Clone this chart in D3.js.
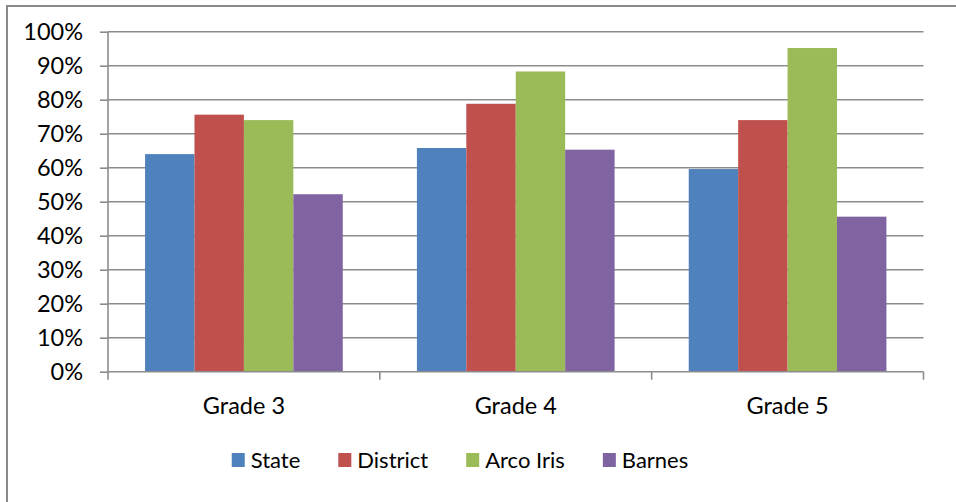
<!DOCTYPE html>
<html>
<head>
<meta charset="utf-8">
<script src="https://cdn.jsdelivr.net/npm/d3@7"></script>
<style>
  body { margin: 0; background: #fff; }
  svg { display: block; }
  text { font-family: Lato, "Open Sans", sans-serif; fill: #000; }
</style>
</head>
<body>
<div id="chart"></div>
<script>
// data
var grades = ["Grade 3", "Grade 4", "Grade 5"];
var series = ["State", "District", "Arco Iris", "Barnes"];
var stateVals = [0.640, 0.658, 0.596];
var districtVals = [0.756, 0.788, 0.740];
var arcoVals = [0.740, 0.883, 0.952];
var barnesVals = [0.522, 0.653, 0.456];
var yTicks = [0, 0.1, 0.2, 0.3, 0.4, 0.5, 0.6, 0.7, 0.8, 0.9, 1.0];
var colors = ["#4F81BD", "#C0504D", "#9BBB59", "#8064A2"];

var allVals = [stateVals, districtVals, arcoVals, barnesVals];

var W = 956, H = 502;
var plot = {left: 108, right: 923.5, top: 31.7, bottom: 371.7};
var fontSize = "23.5px";

var svg = d3.select("#chart")
  .append("svg")
    .attr("width", W)
    .attr("height", H);

// outer frame (only top and left edges show in the crop)
svg.append("rect")
  .attr("x", 7).attr("y", 6)
  .attr("width", W + 20).attr("height", H + 20)
  .attr("fill", "#fff")
  .attr("stroke", "#8a8a8a")
  .attr("stroke-width", 2);

var y = d3.scaleLinear()
  .domain([0, 1])
  .range([plot.bottom, plot.top]);

var x0 = d3.scaleBand()
  .domain(grades)
  .range([plot.left, plot.right])
  .padding(0);

var x1 = d3.scaleBand()
  .domain(series)
  .range([0, x0.bandwidth()])
  .paddingInner(0)
  .paddingOuter(0.75);

// gridlines
svg.append("g")
  .selectAll("line")
  .data(yTicks.filter(d => d > 0))
  .enter().append("line")
    .attr("x1", plot.left).attr("x2", plot.right)
    .attr("y1", d => y(d)).attr("y2", d => y(d))
    .attr("stroke", "#8c8c8c")
    .attr("stroke-width", 1.6);

// bars
var groups = svg.append("g")
  .selectAll("g")
  .data(series)
  .enter().append("g")
    .attr("fill", (d, i) => colors[i]);

groups.selectAll("rect")
  .data((s, i) => grades.map((g, j) => ({grade: g, s: s, v: allVals[i][j]})))
  .enter().append("rect")
    .attr("x", d => x0(d.grade) + x1(d.s))
    .attr("width", x1.bandwidth())
    .attr("y", d => y(d.v))
    .attr("height", d => y(0) - y(d.v));

// y axis
var yAxis = svg.append("g")
  .attr("transform", "translate(" + plot.left + ",0)")
  .call(d3.axisLeft(y).tickValues(yTicks).tickSize(8).tickPadding(17)
    .tickFormat(d3.format(".0%")));
yAxis.select(".domain").remove();
yAxis.selectAll("line").attr("stroke", "#8c8c8c").attr("stroke-width", 1.6);
yAxis.selectAll("text")
  .style("font-family", "Lato, sans-serif")
  .style("font-size", fontSize);
svg.append("line")
  .attr("x1", plot.left).attr("x2", plot.left)
  .attr("y1", plot.top).attr("y2", plot.bottom + 8)
  .attr("stroke", "#8c8c8c").attr("stroke-width", 1.6);

// x axis line and category ticks
svg.append("line")
  .attr("x1", plot.left).attr("x2", plot.right)
  .attr("y1", plot.bottom).attr("y2", plot.bottom)
  .attr("stroke", "#8c8c8c").attr("stroke-width", 1.6);
svg.append("g")
  .selectAll("line")
  .data(grades)
  .enter().append("line")
    .attr("x1", d => x0(d) + x0.bandwidth()).attr("x2", d => x0(d) + x0.bandwidth())
    .attr("y1", plot.bottom).attr("y2", plot.bottom + 8)
    .attr("stroke", "#8c8c8c").attr("stroke-width", 1.6);

svg.append("g")
  .selectAll("text")
  .data(grades)
  .enter().append("text")
    .attr("x", d => x0(d) + x0.bandwidth() / 2)
    .attr("y", 414)
    .attr("text-anchor", "middle")
    .style("font-size", fontSize)
    .text(d => d);

// legend
var legend = svg.append("g");
var items = legend.selectAll("g")
  .data(series)
  .enter().append("g");
items.append("rect")
  .attr("width", 13).attr("height", 14)
  .attr("y", 453)
  .attr("fill", (d, i) => colors[i]);
items.append("text")
  .attr("x", 19)
  .attr("y", 467.5)
  .style("font-size", "22px")
  .text(d => d);

var gap = 38;
var pos = 0, offs = [];
items.each(function (d, i) {
  offs.push(pos);
  pos += 19 + this.querySelector("text").getComputedTextLength() + gap;
});
var total = pos - gap;
var start = 460 - total / 2;
items.attr("transform", (d, i) => "translate(" + (start + offs[i]) + ",0)");
</script>
</body>
</html>
